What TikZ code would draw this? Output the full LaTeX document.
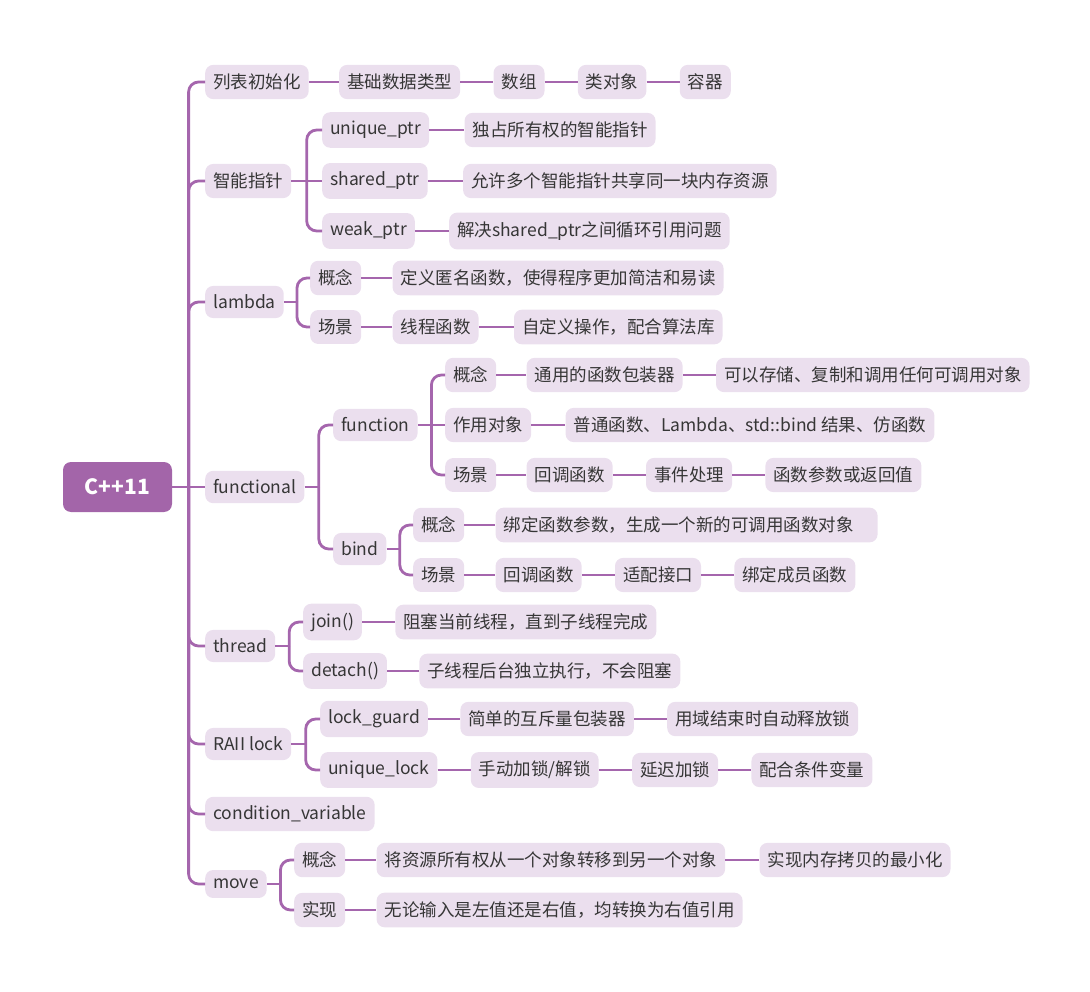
\documentclass[tikz,border=0pt]{standalone}
\usepackage{fontspec}
\setmainfont{Noto Sans CJK SC}
\usetikzlibrary{positioning,calc}

\definecolor{mmline}{HTML}{A566AD}
\definecolor{mmfill}{HTML}{EBDFEE}
\definecolor{mmroot}{HTML}{A365A9}
\definecolor{mmtext}{HTML}{363636}

\tikzset{
  topic/.style={rectangle,fill=mmfill,rounded corners=8pt,inner xsep=8pt,inner ysep=9pt,text=mmtext,font=\fontsize{17.5}{20}\selectfont},
  root/.style={rectangle,fill=mmroot,rounded corners=8pt,minimum width=109pt,minimum height=50pt,text=white,font=\fontsize{21}{24}\selectfont\bfseries},
  branch/.style={draw=mmline,line width=2.8pt},
  fork/.style={branch,rounded corners=10pt},
}

\begin{document}
\begin{tikzpicture}[x=1pt,y=-1pt]
\useasboundingbox (0,0) rectangle (1090,992);

% root
\node[root] (cpp) at (117.5,487) {C++11};

% list initialization
\node[topic,anchor=west] (init) at (205,82) {列表初始化};
\node[topic,right=30pt of init] (init-basic) {基础数据类型};
\node[topic,right=33pt of init-basic] (init-arr) {数组};
\node[topic,right=33pt of init-arr] (init-obj) {类对象};
\node[topic,right=33pt of init-obj] (init-cont) {容器};

% smart pointers
\node[topic,anchor=west] (ptr) at (205,181) {智能指针};
\node[topic,anchor=west] (ptr-u) at (322,130) {unique\_ptr};
\node[topic,anchor=west] (ptr-s) at (322,181) {shared\_ptr};
\node[topic,anchor=west] (ptr-w) at (322,231) {weak\_ptr};
\node[topic,right=35pt of ptr-u] (ptr-u1) {独占所有权的智能指针};
\node[topic,right=35pt of ptr-s] (ptr-s1) {允许多个智能指针共享同一块内存资源};
\node[topic,right=34pt of ptr-w] (ptr-w1) {解决shared\_ptr之间循环引用问题};

% lambda
\node[topic,anchor=west] (lam) at (205,302) {lambda};
\node[topic,anchor=west] (lam-c) at (310,278) {概念};
\node[topic,anchor=west] (lam-s) at (310,327) {场景};
\node[topic,right=31pt of lam-c] (lam-c1) {定义匿名函数，使得程序更加简洁和易读};
\node[topic,right=31pt of lam-s] (lam-s1) {线程函数};
\node[topic,right=35pt of lam-s1] (lam-s2) {自定义操作，配合算法库};

% functional
\node[topic,anchor=west] (fn) at (205,487) {functional};
\node[topic,anchor=west] (fn-f) at (333,425) {function};
\node[topic,anchor=west] (fn-b) at (333,549) {bind};
\node[topic,anchor=west] (fn-fc) at (445,375) {概念};
\node[topic,anchor=west] (fn-fo) at (445,425) {作用对象};
\node[topic,anchor=west] (fn-fs) at (445,475) {场景};
\node[topic,right=30pt of fn-fc] (fn-fc1) {通用的函数包装器};
\node[topic,right=33pt of fn-fc1] (fn-fc2) {可以存储、复制和调用任何可调用对象};
\node[topic,right=34pt of fn-fo] (fn-fo1) {普通函数、Lambda、std::bind 结果、仿函数};
\node[topic,right=30pt of fn-fs] (fn-fs1) {回调函数};
\node[topic,right=33pt of fn-fs1] (fn-fs2) {事件处理};
\node[topic,right=33pt of fn-fs2] (fn-fs3) {函数参数或返回值};
\node[topic,anchor=west] (fn-bc) at (413,525) {概念};
\node[topic,anchor=west] (fn-bs) at (413,575) {场景};
\node[topic,right=31pt of fn-bc] (fn-bc1) {绑定函数参数，生成一个新的可调用函数对象\hspace*{16pt}};
\node[topic,right=31pt of fn-bs] (fn-bs1) {回调函数};
\node[topic,right=33pt of fn-bs1] (fn-bs2) {适配接口};
\node[topic,right=33pt of fn-bs2] (fn-bs3) {绑定成员函数};

% thread
\node[topic,anchor=west] (thr) at (205,646) {thread};
\node[topic,anchor=west] (thr-j) at (303,622) {join()};
\node[topic,anchor=west] (thr-d) at (303,671) {detach()};
\node[topic,right=33pt of thr-j] (thr-j1) {阻塞当前线程，直到子线程完成};
\node[topic,right=32pt of thr-d] (thr-d1) {子线程后台独立执行，不会阻塞};

% RAII lock
\node[topic,anchor=west] (raii) at (205,744) {RAII lock};
\node[topic,anchor=west] (raii-g) at (320,719) {lock\_guard};
\node[topic,anchor=west] (raii-u) at (320,770) {unique\_lock};
\node[topic,right=32pt of raii-g] (raii-g1) {简单的互斥量包装器};
\node[topic,right=33pt of raii-g1] (raii-g2) {用域结束时自动释放锁};
\node[topic,right=33pt of raii-u] (raii-u1) {手动加锁/解锁};
\node[topic,right=33pt of raii-u1] (raii-u2) {延迟加锁};
\node[topic,right=33pt of raii-u2] (raii-u3) {配合条件变量};

% condition variable
\node[topic,anchor=west] (cv) at (205,814) {condition\_variable};

% move
\node[topic,anchor=west] (mv) at (205,884) {move};
\node[topic,anchor=west] (mv-c) at (294,860) {概念};
\node[topic,anchor=west] (mv-i) at (294,910) {实现};
\node[topic,right=31pt of mv-c] (mv-c1) {将资源所有权从一个对象转移到另一个对象};
\node[topic,right=34pt of mv-c1] (mv-c2) {实现内存拷贝的最小化};
\node[topic,right=31pt of mv-i] (mv-i1) {无论输入是左值还是右值，均转换为右值引用};

% trunk
\coordinate (trunk) at ($(cpp.east)!.5!(cpp.east -| fn.west)$);
\draw[branch] (cpp.east) -- (fn.west);
\foreach \t in {init,ptr,lam,thr,raii,cv,mv}
  \draw[fork] (trunk) |- (\t.west);

% forks
\coordinate (ptr-fork) at ($(ptr.east)!.5!(ptr-s.west)$);
\draw[branch] (ptr.east) -- (ptr-s.west);
\foreach \t in {ptr-u,ptr-w} \draw[fork] (ptr-fork) |- (\t.west);

\coordinate (lam-fork) at ($(lam.east)!.5!(lam.east -| lam-c.west)$);
\draw[branch] (lam.east) -- (lam-fork);
\foreach \t in {lam-c,lam-s} \draw[fork] (lam-fork) |- (\t.west);

\coordinate (fn-fork) at ($(fn.east)!.5!(fn.east -| fn-f.west)$);
\draw[branch] (fn.east) -- (fn-fork);
\foreach \t in {fn-f,fn-b} \draw[fork] (fn-fork) |- (\t.west);

\coordinate (fn-f-fork) at ($(fn-f.east)!.5!(fn-fo.west)$);
\draw[branch] (fn-f.east) -- (fn-fo.west);
\foreach \t in {fn-fc,fn-fs} \draw[fork] (fn-f-fork) |- (\t.west);

\coordinate (fn-b-fork) at ($(fn-b.east)!.5!(fn-b.east -| fn-bc.west)$);
\draw[branch] (fn-b.east) -- (fn-b-fork);
\foreach \t in {fn-bc,fn-bs} \draw[fork] (fn-b-fork) |- (\t.west);

\coordinate (thr-fork) at ($(thr.east)!.5!(thr.east -| thr-j.west)$);
\draw[branch] (thr.east) -- (thr-fork);
\foreach \t in {thr-j,thr-d} \draw[fork] (thr-fork) |- (\t.west);

\coordinate (raii-fork) at ($(raii.east)!.5!(raii.east -| raii-g.west)$);
\draw[branch] (raii.east) -- (raii-fork);
\foreach \t in {raii-g,raii-u} \draw[fork] (raii-fork) |- (\t.west);

\coordinate (mv-fork) at ($(mv.east)!.5!(mv.east -| mv-c.west)$);
\draw[branch] (mv.east) -- (mv-fork);
\foreach \t in {mv-c,mv-i} \draw[fork] (mv-fork) |- (\t.west);

% chains
\foreach \a/\b in {init/init-basic,init-basic/init-arr,init-arr/init-obj,init-obj/init-cont,
  ptr-u/ptr-u1,ptr-s/ptr-s1,ptr-w/ptr-w1,lam-c/lam-c1,lam-s/lam-s1,lam-s1/lam-s2,
  fn-fc/fn-fc1,fn-fc1/fn-fc2,fn-fo/fn-fo1,fn-fs/fn-fs1,fn-fs1/fn-fs2,fn-fs2/fn-fs3,
  fn-bc/fn-bc1,fn-bs/fn-bs1,fn-bs1/fn-bs2,fn-bs2/fn-bs3,thr-j/thr-j1,thr-d/thr-d1,
  raii-g/raii-g1,raii-g1/raii-g2,raii-u/raii-u1,raii-u1/raii-u2,raii-u2/raii-u3,
  mv-c/mv-c1,mv-c1/mv-c2,mv-i/mv-i1}
  \draw[branch] (\a.east) -- (\b.west);
\end{tikzpicture}
\end{document}
